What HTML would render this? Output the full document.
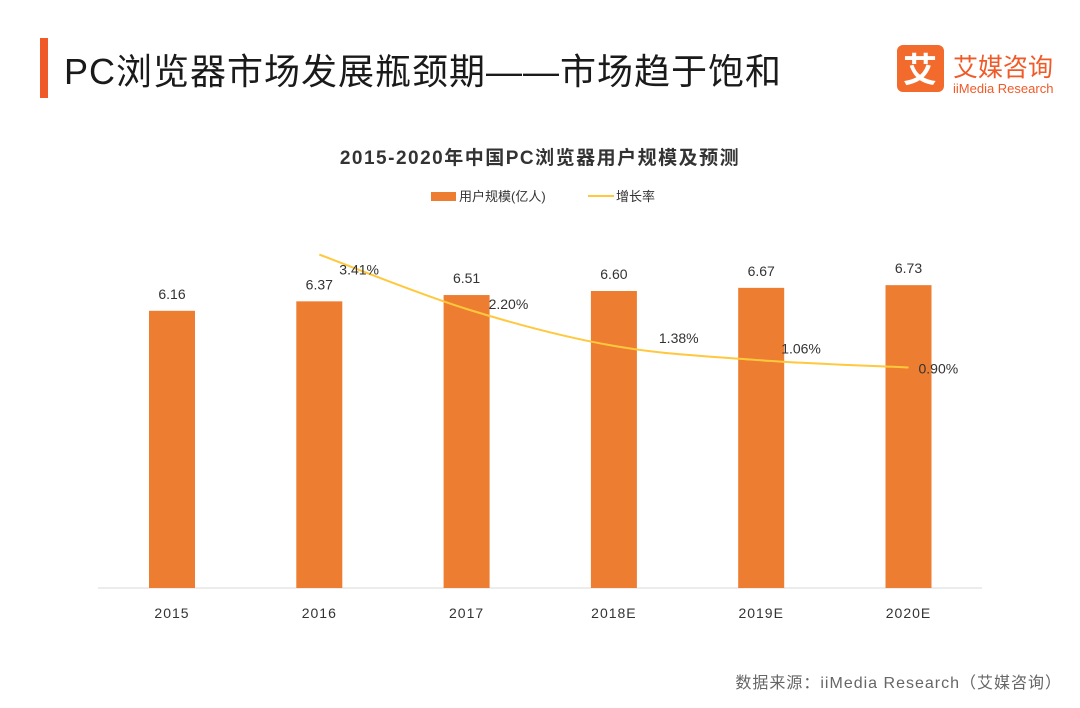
<!DOCTYPE html>
<html><head><meta charset="utf-8">
<style>
body{margin:0;width:1080px;height:703px;background:#fff;overflow:hidden;font-family:"Liberation Sans","Noto Sans CJK SC",sans-serif;}
</style></head>
<body>
<svg id="chart" width="1080" height="703" xmlns="http://www.w3.org/2000/svg">
<rect x="40" y="38" width="8" height="60" fill="#f05a28"/>
<text x="64" y="84" font-size="36" letter-spacing="1" fill="#1a1a1a" font-family="Liberation Sans, Noto Sans CJK SC, sans-serif">PC浏览器市场发展瓶颈期——市场趋于饱和</text>
<g>
<rect x="897" y="45" width="47" height="47" rx="6" fill="#f26b2c"/>
<text x="920" y="82" font-size="34" fill="#fff" text-anchor="middle" font-weight="bold" font-family="Noto Sans CJK SC, sans-serif">艾</text>
<text x="953" y="76" font-size="25" fill="#f05a28" font-family="Noto Sans CJK SC, sans-serif">艾媒咨询</text>
<text x="953" y="93" font-size="13" fill="#f05a28">iiMedia Research</text>
</g>
<text x="540" y="164" font-size="19" letter-spacing="1.5" font-weight="bold" fill="#333" text-anchor="middle" font-family="Liberation Sans, Noto Sans CJK SC, sans-serif">2015-2020年中国PC浏览器用户规模及预测</text>
<g>
<rect x="431" y="192" width="25" height="9" fill="#ed7d31"/>
<text x="459" y="201" font-size="13" fill="#333" font-family="Liberation Sans, Noto Sans CJK SC, sans-serif">用户规模(亿人)</text>
<line x1="588" y1="196" x2="614" y2="196" stroke="#ffc83d" stroke-width="2"/>
<text x="616" y="201" font-size="13" fill="#333" font-family="Liberation Sans, Noto Sans CJK SC, sans-serif">增长率</text>
</g>
<line x1="98" y1="588" x2="982" y2="588" stroke="#d9d9d9" stroke-width="1"/>
<g id="bars"></g><g id="line"></g><g id="labels"></g>
<text x="1062" y="688" font-size="16" letter-spacing="1" fill="#666" text-anchor="end" font-family="Liberation Sans, Noto Sans CJK SC, sans-serif">数据来源：iiMedia Research（艾媒咨询）</text>
</svg>
<script>
const categories=["2015","2016","2017","2018E","2019E","2020E"];
const users=[6.16,6.37,6.51,6.60,6.67,6.73];
const growthCats=["2016","2017","2018E","2019E","2020E"];
const growth=[3.41,2.20,1.38,1.06,0.90];
const NS="http://www.w3.org/2000/svg";
const x0=172,step=147.3,base=588,kBar=45,kLine=45,lineBase=408;
const xs=i=>x0+i*step;
const yBar=v=>base-v*kBar;
const yLine=v=>lineBase-v*kLine;
function mk(t,a,p){const e=document.createElementNS(NS,t);for(const k in a)e.setAttribute(k,a[k]);p.appendChild(e);return e;}
const bars=document.getElementById('bars'),lineG=document.getElementById('line'),labs=document.getElementById('labels');
users.forEach((v,i)=>{
 const r=mk('rect',{x:xs(i)-23,y:yBar(v),width:46,height:v*kBar,fill:'#ed7d31'},bars);
 
 
 const t=mk('text',{x:xs(i),y:yBar(v)-12,'font-size':14,fill:'#333','text-anchor':'middle'},labs);t.textContent=v.toFixed(2);
 
 
 const c=mk('text',{x:xs(i),y:618,'font-size':14,fill:'#333','text-anchor':'middle','letter-spacing':'1'},labs);c.textContent=categories[i];
 
 
});
const pts=growth.map((v,i)=>[xs(categories.indexOf(growthCats[i])),yLine(v)]);
let d='M'+pts[0][0]+','+pts[0][1];
for(let i=0;i<pts.length-1;i++){
 const p0=pts[Math.max(0,i-1)],p1=pts[i],p2=pts[i+1],p3=pts[Math.min(pts.length-1,i+2)];
 const c1=[p1[0]+(p2[0]-p0[0])/6,p1[1]+(p2[1]-p0[1])/6],c2=[p2[0]-(p3[0]-p1[0])/6,p2[1]-(p3[1]-p1[1])/6];
 d+=' C'+c1+' '+c2+' '+p2;
}
const path=mk('path',{d:d,fill:'none',stroke:'#ffc83d','stroke-width':2},lineG);


const ldx=[20,22,45,20,10],ldy=[20,0,-3,-7,6];
growth.forEach((v,i)=>{
 const t=mk('text',{x:pts[i][0]+ldx[i],y:pts[i][1]+ldy[i],'font-size':14,fill:'#333'},labs);t.textContent=v.toFixed(2)+'%';
 
 
});
</script>
</body></html>
